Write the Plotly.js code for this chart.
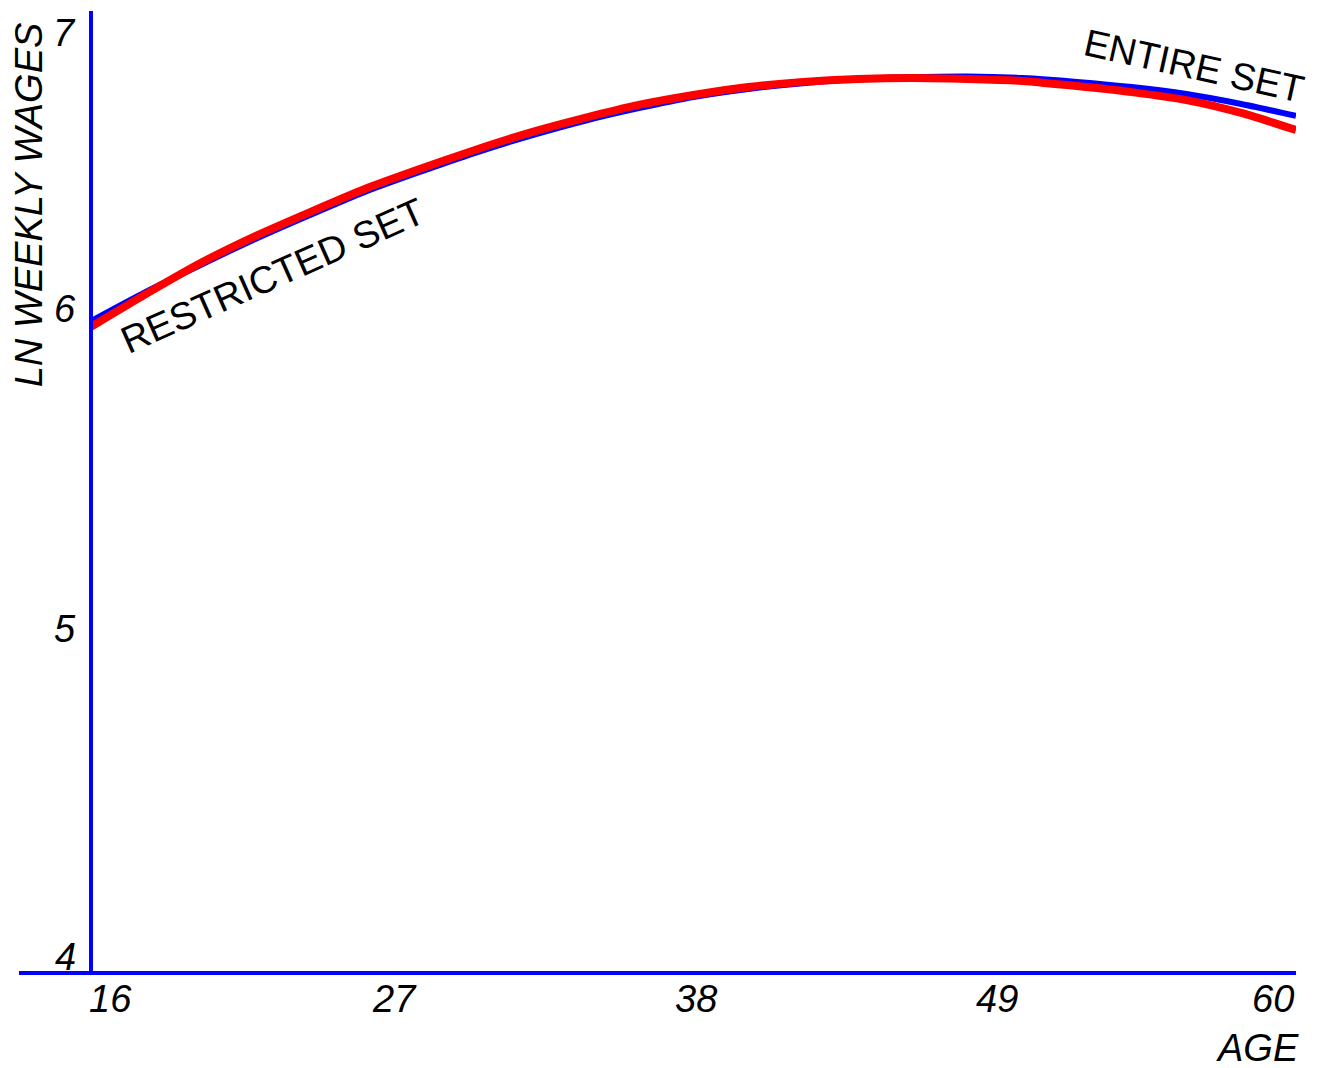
<!DOCTYPE html>
<html>
<head>
<meta charset="utf-8">
<script src="https://cdn.plot.ly/plotly-3.0.1.min.js"></script>
<style>html,body{margin:0;padding:0;background:#fff;}</style>
</head>
<body>
<div id="chart" style="width:1323px;height:1068px;"></div>
<script>
// ---- data ----
const ages = [16,18,20,22,24,26,28,30,32,34,36,38,40,42,44,46,48,50,52,54,56,58,60];
const entireSet = [6.033,6.124,6.208,6.289,6.364,6.436,6.498,6.557,6.610,6.657,6.697,6.732,6.757,6.775,6.788,6.794,6.796,6.791,6.779,6.763,6.741,6.710,6.673];
const restrictedSet = [6.015,6.117,6.214,6.298,6.373,6.445,6.507,6.566,6.620,6.666,6.707,6.738,6.763,6.779,6.788,6.791,6.788,6.782,6.766,6.747,6.722,6.682,6.629];
const xTicks = [16,27,38,49,60];
const yTicks = [4,5,6,7];
const seriesNames = ["ENTIRE SET","RESTRICTED SET"];
const xTitle = "AGE";
const yTitle = "LN WEEKLY WAGES";

const BLUE = "#0000ff", RED = "#ff0000";
const FONT = "Liberation Sans, Arial, Helvetica, sans-serif";
const italic = {family: FONT, size: 38, color: "#000", style: "italic"};
const upright = {family: FONT, size: 38, color: "#000"};

const traces = [
  {x: ages, y: entireSet, name: seriesNames[0], type: "scatter", mode: "lines",
   line: {color: BLUE, width: 6, shape: "spline", smoothing: 0.6}},
  {x: ages, y: restrictedSet, name: seriesNames[1], type: "scatter", mode: "lines",
   line: {color: RED, width: 8, shape: "spline", smoothing: 0.6}}
];

const annotations = [];
xTicks.forEach((v, i) => {
  const first = i === 0, last = i === xTicks.length - 1;
  annotations.push({text: String(v), x: v, xref: "x", y: 0, yref: "paper",
    xanchor: first ? "left" : (last ? "right" : "center"), xshift: first ? -4 : (last ? 0 : 2),
    yanchor: "top", yshift: -3, showarrow: false, font: italic});
});
yTicks.forEach((v, i) => {
  const last = i === yTicks.length - 1;
  annotations.push({text: String(v), x: 0, xref: "paper", y: v, yref: "y",
    xanchor: "right", xshift: -13, yanchor: last ? "top" : "bottom", yshift: last ? 1 : (i === 0 ? -7 : 0),
    showarrow: false, font: italic});
});
annotations.push({text: yTitle, textangle: -90, x: 0, xref: "paper", xanchor: "center", xshift: -62,
  y: 0.798, yref: "paper", yanchor: "middle", showarrow: false, font: italic});
annotations.push({text: xTitle, x: 1, xref: "paper", xanchor: "right", xshift: 5,
  y: 0, yref: "paper", yanchor: "middle", yshift: -75, showarrow: false, font: italic});
annotations.push({text: seriesNames[0], x: 56.28, xref: "x", y: 6.828, yref: "y", textangle: 12.5,
  xanchor: "center", yanchor: "middle", showarrow: false, font: upright});
annotations.push({text: seriesNames[1], x: 22.61, xref: "x", y: 6.174, yref: "y", textangle: -24,
  xanchor: "center", yanchor: "middle", showarrow: false, font: upright});

const shapes = [
  {type: "line", xref: "paper", yref: "paper", x0: -72/1205, x1: 1, y0: 0, y1: 0, line: {color: BLUE, width: 4}},
  {type: "line", xref: "paper", yref: "paper", x0: 0, x1: 0, y0: 0, y1: 1, line: {color: BLUE, width: 4}}
];

const layout = {
  width: 1323, height: 1068,
  margin: {l: 91, r: 27, t: 11, b: 95, pad: 0},
  paper_bgcolor: "#fff", plot_bgcolor: "#fff",
  showlegend: false,
  xaxis: {range: [16, 60], showgrid: false, zeroline: false, showline: false, showticklabels: false, ticks: ""},
  yaxis: {range: [4, 7], showgrid: false, zeroline: false, showline: false, showticklabels: false, ticks: ""},
  annotations: annotations,
  shapes: shapes
};

Plotly.newPlot("chart", traces, layout, {displayModeBar: false, staticPlot: true});
</script>
</body>
</html>
